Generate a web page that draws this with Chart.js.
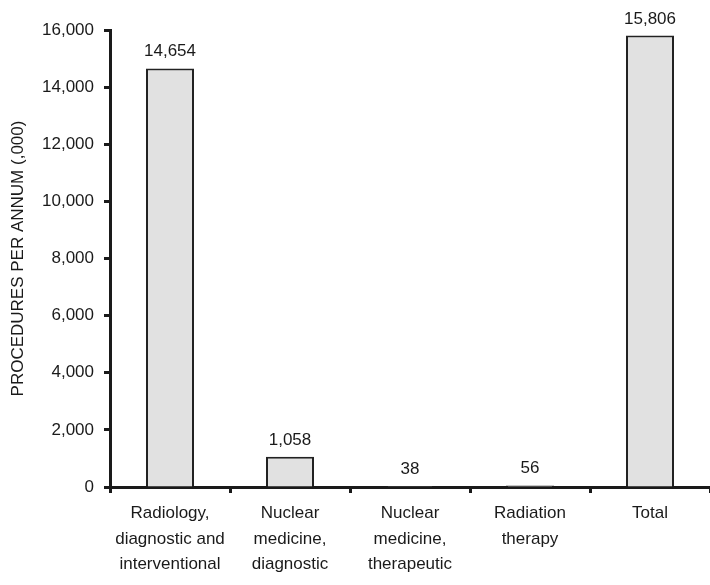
<!DOCTYPE html>
<html>
<head>
<meta charset="utf-8">
<script src="https://cdn.jsdelivr.net/npm/chart.js@4/dist/chart.umd.min.js"></script>
<style>
  html, body { margin: 0; padding: 0; background: #fff; }
  #wrap { width: 710px; height: 585px; }
</style>
</head>
<body>
<div id="wrap"><canvas id="procChart" width="710" height="585"></canvas></div>
<script>
const categories = [
  ['Radiology,', 'diagnostic and', 'interventional'],
  ['Nuclear', 'medicine,', 'diagnostic'],
  ['Nuclear', 'medicine,', 'therapeutic'],
  ['Radiation', 'therapy'],
  ['Total']
];
const procedures = [14654, 1058, 38, 56, 15806];
const yTicks = [0, 2000, 4000, 6000, 8000, 10000, 12000, 14000, 16000];

const ink = '#1a1a1a';
const fontFamily = '"Liberation Sans", Arial, sans-serif';

// value printed above each bar
const barValues = {
  id: 'barValues',
  afterDatasetsDraw(chart) {
    const ctx = chart.ctx;
    const meta = chart.getDatasetMeta(0);
    ctx.save();
    ctx.font = '17px ' + fontFamily;
    ctx.fillStyle = ink;
    ctx.textAlign = 'center';
    ctx.textBaseline = 'alphabetic';
    meta.data.forEach((bar, i) => {
      ctx.fillText(procedures[i].toLocaleString('en-US'), bar.x, bar.y - 12);
    });
    ctx.restore();
  }
};

new Chart(document.getElementById('procChart'), {
  type: 'bar',
  data: {
    labels: categories,
    datasets: [{
      data: procedures,
      backgroundColor: '#e1e1e1',
      borderColor: '#222',
      borderWidth: 2,
      borderSkipped: 'bottom',
      barPercentage: 0.8,
      categoryPercentage: 0.5
    }]
  },
  options: {
    responsive: false,
    animation: false,
    layout: { padding: { top: 30, right: 0, left: 0, bottom: 0 } },
    plugins: {
      legend: { display: false },
      tooltip: { enabled: false }
    },
    scales: {
      x: {
        offset: true,
        grid: {
          offset: true,
          drawOnChartArea: false,
          drawTicks: true,
          tickLength: 6,
          tickWidth: 3,
          tickColor: ink
        },
        border: { display: true, color: ink, width: 3 },
        ticks: {
          color: ink,
          padding: 8,
          maxRotation: 0,
          autoSkip: false,
          font: { family: fontFamily, size: 17, lineHeight: 1.5 }
        },
        afterFit(scale) { scale.height = 98; }
      },
      y: {
        min: 0,
        max: 16000,
        afterBuildTicks(scale) { scale.ticks = yTicks.map(v => ({ value: v })); },
        grid: {
          drawOnChartArea: false,
          drawTicks: true,
          tickLength: 6,
          tickWidth: 3,
          tickColor: ink
        },
        border: { display: true, color: ink, width: 3 },
        ticks: {
          color: ink,
          padding: 10,
          font: { family: fontFamily, size: 17 },
          callback: v => v.toLocaleString('en-US')
        },
        title: {
          display: true,
          text: 'PROCEDURES PER ANNUM (,000)',
          color: ink,
          padding: { top: 8, bottom: 0 },
          font: { family: fontFamily, size: 17 }
        },
        afterFit(scale) { scale.width = 110; }
      }
    }
  },
  plugins: [barValues]
});
</script>
</body>
</html>
